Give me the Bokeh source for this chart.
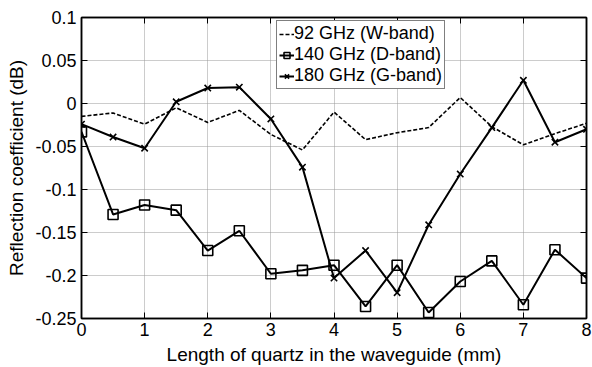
from bokeh.plotting import figure
from bokeh.models import (LinearAxis, FixedTicker, CustomJSTickFormatter, Legend,
                          LegendItem, Range1d, Grid)
from bokeh.embed import file_html
from bokeh.resources import INLINE

length_mm = [0, 0.5, 1, 1.5, 2, 2.5, 3, 3.5, 4, 4.5, 5, 5.5, 6, 6.5, 7, 7.5, 8]
w_band_92 = [-0.015, -0.011, -0.024, -0.005, -0.022, -0.008, -0.036, -0.054, -0.010,
             -0.042, -0.034, -0.028, 0.007, -0.027, -0.048, -0.035, -0.023]
d_band_140 = [-0.033, -0.129, -0.118, -0.124, -0.171, -0.148, -0.198, -0.194, -0.188,
              -0.236, -0.188, -0.243, -0.207, -0.183, -0.234, -0.170, -0.203]
g_band_180 = [-0.024, -0.039, -0.052, 0.002, 0.018, 0.019, -0.018, -0.074, -0.203,
              -0.171, -0.220, -0.141, -0.082, -0.028, 0.027, -0.045, -0.030]
series_labels = ["92 GHz (W-band)", "140 GHz (D-band)", "180 GHz (G-band)"]
x_ticks = [0, 1, 2, 3, 4, 5, 6, 7, 8]
y_ticks = [0.1, 0.05, 0, -0.05, -0.1, -0.15, -0.2, -0.25]
x_label = "Length of quartz in the waveguide (mm)"
y_label = "Reflection coefficient (dB)"

FONT = "Liberation Sans"

p = figure(width=592, height=367, output_backend="svg", toolbar_location=None,
           x_range=Range1d(0, 8), y_range=Range1d(-0.25, 0.1),
           min_border_left=81, min_border_right=6, min_border_top=17, min_border_bottom=49,
           x_axis_location=None, y_axis_location=None)
p.outline_line_color = "black"
p.outline_line_width = 1.5
p.background_fill_color = "white"
p.border_fill_color = "white"

fmt = CustomJSTickFormatter(code="return String(Math.round(tick*100)/100);")

def style_axis(ax, labels=True):
    ax.major_tick_in = 6
    ax.major_tick_out = 0
    ax.minor_tick_in = 0
    ax.minor_tick_out = 0
    ax.axis_line_color = "black"
    ax.axis_line_width = 1.5
    ax.major_tick_line_color = "black"
    ax.major_tick_line_width = 1
    ax.major_label_text_font = FONT
    ax.major_label_text_font_size = "18px"
    ax.major_label_text_color = "black"
    ax.axis_label_text_font = FONT
    ax.axis_label_text_font_size = "19px"
    ax.axis_label_text_font_style = "normal"
    ax.axis_label_text_color = "black"
    if not labels:
        ax.major_label_text_alpha = 0
        ax.major_label_text_font_size = "1px"

xb = LinearAxis(ticker=FixedTicker(ticks=x_ticks), axis_label=x_label)
style_axis(xb)
xb.major_label_standoff = 4
xb.axis_label_standoff = 5
p.add_layout(xb, "below")
yl = LinearAxis(ticker=FixedTicker(ticks=y_ticks), formatter=fmt, axis_label=y_label)
style_axis(yl)
yl.major_label_standoff = 5
yl.axis_label_standoff = 5
p.add_layout(yl, "left")
xt = LinearAxis(ticker=FixedTicker(ticks=x_ticks))
style_axis(xt, labels=False)
xt.major_label_standoff = 0
p.add_layout(xt, "above")
yr = LinearAxis(ticker=FixedTicker(ticks=y_ticks))
style_axis(yr, labels=False)
yr.major_label_standoff = 0
p.add_layout(yr, "right")

p.xgrid.visible = False
p.ygrid.visible = False
for dim, tk in ((0, x_ticks), (1, y_ticks)):
    g = Grid(dimension=dim, ticker=FixedTicker(ticks=tk), grid_line_color="#999999",
             grid_line_dash="1 1", grid_line_width=1)
    p.add_layout(g)

r1 = p.line(length_mm, w_band_92, line_color="black", line_width=1.6, line_dash="4 2")
r2 = p.line(length_mm, d_band_140, line_color="black", line_width=2)
m2 = p.scatter(length_mm, d_band_140, marker="square", size=10, line_color="black",
               line_width=1.6, fill_alpha=0)
r3 = p.line(length_mm, g_band_180, line_color="black", line_width=2)
m3 = p.scatter(length_mm, g_band_180, marker="x", size=9, line_color="black",
               line_width=1.6)

legend = Legend(items=[LegendItem(label=series_labels[0], renderers=[r1]),
                       LegendItem(label=series_labels[1], renderers=[r2, m2]),
                       LegendItem(label=series_labels[2], renderers=[r3, m3])],
                location=(195, 229))
legend.border_line_color = "black"
legend.border_line_width = 1.2
legend.background_fill_alpha = 1
legend.label_text_font = FONT
legend.label_text_font_size = "18px"
legend.label_text_color = "black"
legend.glyph_width = 15
legend.glyph_height = 20
legend.label_height = 20
legend.label_standoff = 0
legend.spacing = 0
legend.padding = 2
legend.margin = 0
legend.label_text_line_height = 1.0
p.add_layout(legend, "center")

open("out.html", "w").write(file_html(p, INLINE))
